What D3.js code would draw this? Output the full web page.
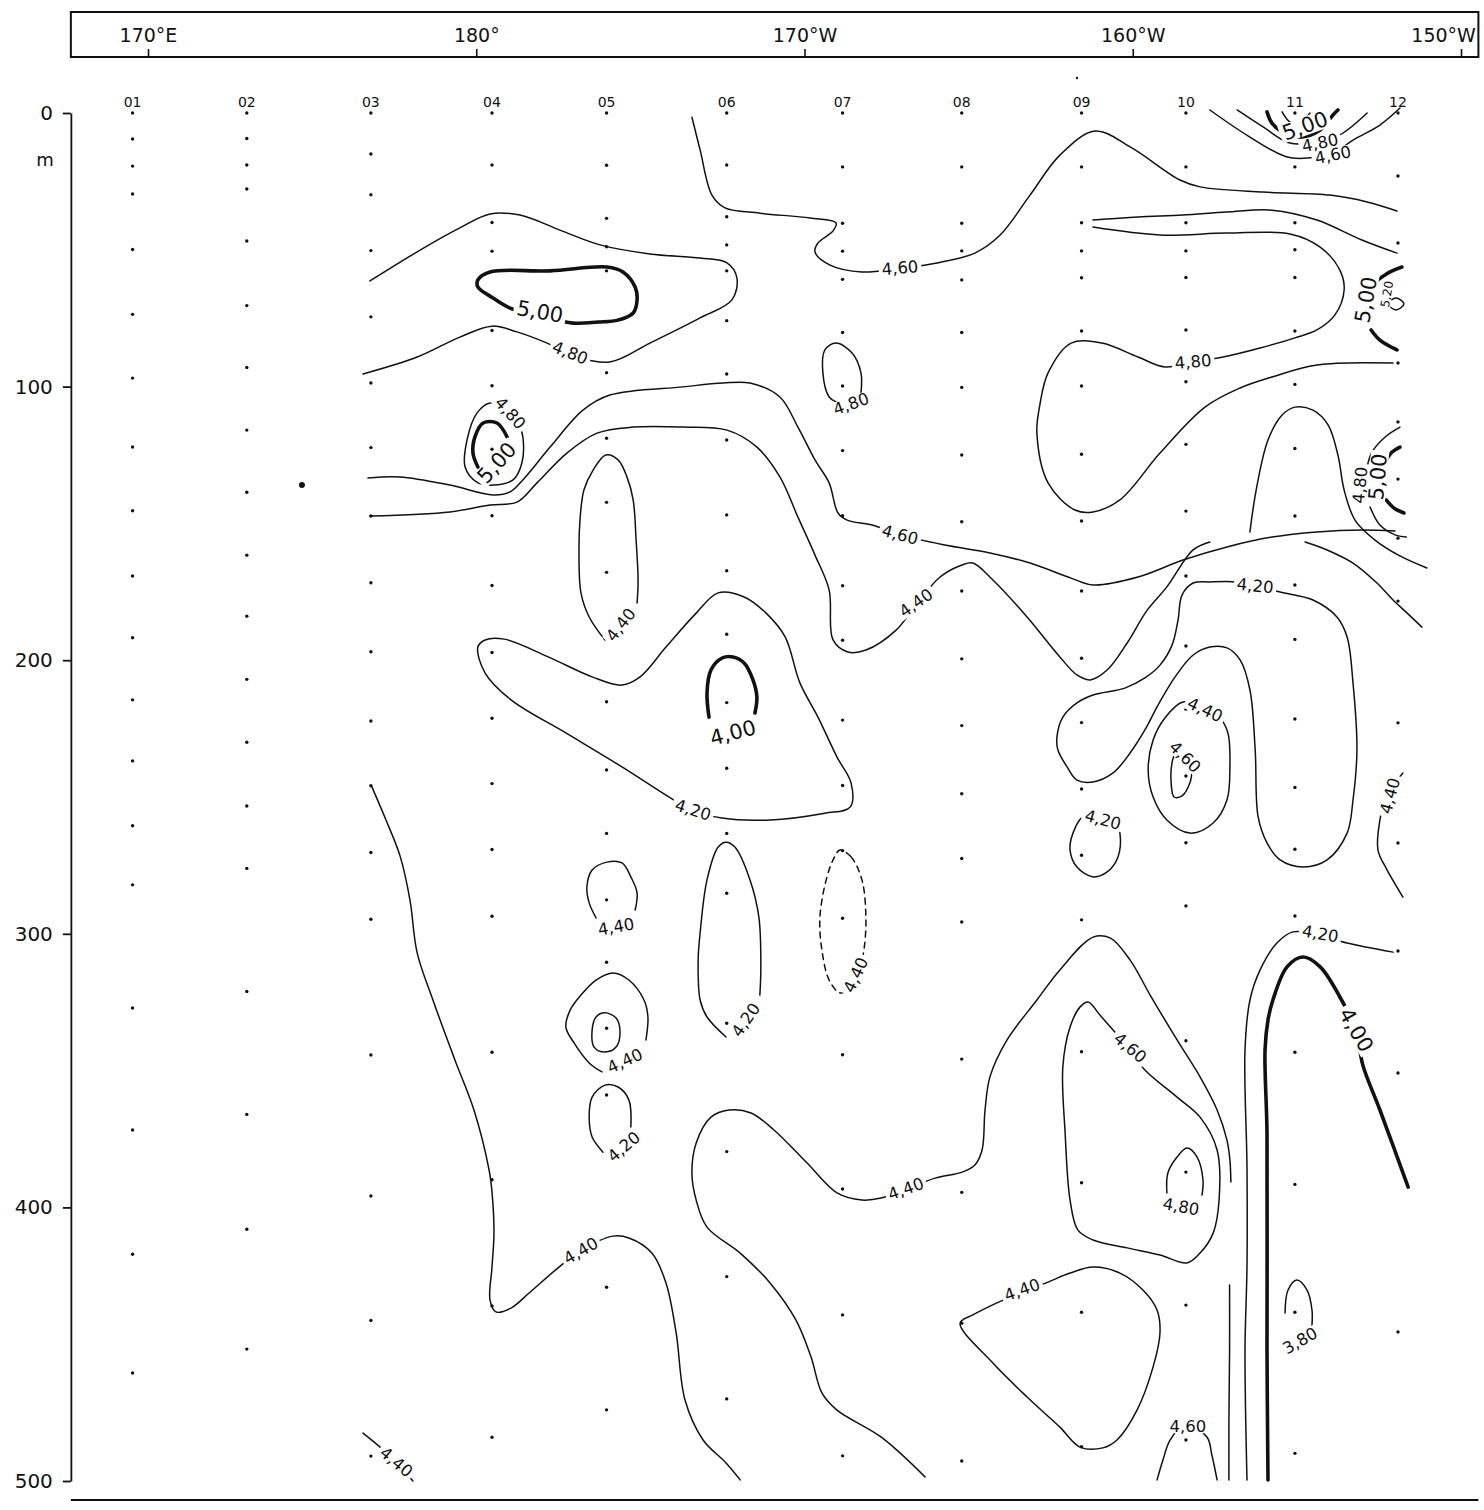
<!DOCTYPE html>
<html>
<head>
<meta charset="utf-8">
<script src="https://cdn.jsdelivr.net/npm/d3@7"></script>
<style>
  body { margin: 0; background: #fff; }
  svg { display: block; }
  text { font-family: "DejaVu Sans", sans-serif; fill: #111; }
</style>
</head>
<body>
<div id="chart"></div>
<script>
// --- stations and sample depths (m) ---
const stationNames = ["01", "02", "03", "04", "05", "06", "07", "08", "09", "10", "11", "12"];
const stationLon = [169.53, 173.01, 176.79, 180.48, 183.97, 187.63, 191.16, 194.79, 198.44, 201.62, 204.94, 208.08];
const sampleDepths = [
    [0, 9.5, 19.4, 29.6, 49.9, 73.6, 96.9, 122.1, 145.4, 169.2, 191.8, 214.5, 236.8, 260.5, 282.1, 327.1, 371.7, 417.1, 460.5],
    [0, 9.3, 19.0, 27.8, 46.8, 70.4, 93.0, 115.9, 138.6, 161.6, 183.9, 207.0, 230.0, 253.3, 276.1, 321.1, 366.0, 408.0, 451.8],
    [0, 15.0, 29.9, 50.3, 74.5, 98.7, 122.3, 147.3, 171.7, 196.9, 222.2, 245.9, 270.3, 294.7, 344.3, 395.8, 441.3, 490.9],
    [0, 19.0, 40.0, 50.5, 79.5, 99.7, 122.9, 147.2, 172.7, 197.2, 221.2, 245.1, 269.2, 293.6, 343.3, 389.9, 436.0, 484.0],
    [0, 19.1, 38.5, 48.9, 57.7, 76.3, 94.9, 118.9, 142.3, 167.9, 190.9, 215.2, 240.1, 263.3, 287.6, 310.4, 334.5, 358.9, 381.5, 429.2, 474.0],
    [0, 19.0, 37.9, 48.2, 57.7, 75.9, 95.4, 119.5, 146.9, 167.3, 190.5, 215.5, 239.5, 263.3, 285.2, 332.7, 379.6, 425.3, 470.0],
    [0, 19.7, 40.3, 50.5, 60.8, 80.2, 99.8, 123.4, 147.2, 172.8, 192.7, 221.9, 245.8, 269.6, 294.3, 344.2, 393.3, 439.3, 490.8],
    [0, 19.7, 40.3, 50.4, 61.0, 80.2, 100.3, 125.0, 149.4, 174.7, 199.5, 223.9, 248.8, 272.5, 295.7, 345.8, 394.5, 442.3, 492.7],
    [0, 19.7, 40.1, 50.4, 60.2, 79.7, 99.8, 124.7, 149.1, 174.7, 199.3, 222.8, 247.1, 271.3, 294.9, 343.1, 391.0, 438.3, 487.5],
    [0, 19.7, 40.1, 50.4, 60.1, 79.3, 98.2, 121.1, 145.5, 169.2, 194.8, 217.9, 242.3, 266.7, 289.8, 339.1, 387.1, 435.7, 485.0],
    [0, 19.7, 40.1, 50.0, 60.1, 79.7, 99.2, 122.6, 147.3, 172.5, 192.4, 221.5, 246.5, 269.1, 293.5, 343.3, 391.6, 438.3, 489.9],
    [0, 23.0, 47.5, 91.4, 112.9, 133.8, 155.4, 178.4, 222.9, 266.8, 306.3, 350.9, 445.5]
];
const strayDots = [[174.69, 136.0, "big"], [198.30, -12.8, "small"]];

// --- axes ---
const lonExtent = [167.65, 210.53];
const lonTicks = [170, 180, 190, 200, 210];
const lonTickLabels = ["170°E", "180°", "170°W", "160°W", "150°W"];
const depthTicks = [0, 100, 200, 300, 400, 500];

// --- contour lines, points are [longitude °E, depth m] ---
const c460Top = [[186.57, 1.5], [186.82, 13.5], [187.18, 30.0], [187.58, 34.7], [188.64, 36.6], [190.17, 38.4], [190.96, 40.2], [190.87, 43.1], [190.41, 47.5], [190.32, 50.8], [190.78, 55.6], [191.75, 58.1], [192.91, 56.7], [194.04, 54.8], [195.19, 51.2], [195.96, 44.6], [196.87, 30.0], [197.78, 15.4], [198.85, 6.6], [199.92, 12.4], [201.44, 24.5], [202.05, 27.0], [203.97, 28.9], [206.01, 30.0], [207.14, 32.5], [208.05, 35.8]];
const c480Tongue = [[176.76, 61.4], [178.29, 50.1], [179.50, 42.0], [180.42, 36.9], [181.33, 37.3], [182.55, 42.8], [183.77, 48.2], [185.29, 51.5], [186.82, 53.0], [187.64, 54.8], [187.94, 60.3], [187.79, 68.3], [186.82, 74.9], [185.29, 84.1], [184.07, 91.0], [183.01, 88.8], [182.16, 84.1], [181.24, 80.0], [180.48, 77.9], [179.50, 81.9], [178.20, 89.2], [176.55, 95.4]];
const c500Tongue = [[183.71, 76.4], [184.32, 75.7], [184.78, 73.1], [184.90, 68.3], [184.84, 63.6], [184.47, 58.1], [183.98, 56.3], [182.25, 57.7], [180.42, 58.1], [180.05, 61.0], [180.05, 63.6], [180.51, 67.6], [181.03, 71.3], [181.94, 74.2], [182.95, 76.8]];
const c480Loop04 = [[180.42, 106.0], [180.02, 109.7], [179.72, 119.5], [179.66, 129.4], [180.02, 134.9], [180.51, 136.0], [181.12, 134.1], [181.39, 127.9], [181.42, 118.4], [181.33, 114.8], [180.97, 108.6]];
const c500Arc04 = [[180.94, 118.4], [180.63, 113.3], [180.21, 113.3], [179.96, 118.4], [179.90, 124.3], [180.05, 129.4]];
const c460Mid = [[176.70, 133.4], [177.68, 133.0], [179.20, 136.0], [180.51, 139.6], [181.03, 138.5], [181.42, 134.1], [182.25, 122.1], [183.25, 108.6], [184.07, 103.1], [186.30, 100.1], [187.52, 98.7], [188.34, 98.7], [189.25, 103.8], [189.80, 114.8], [190.32, 126.8], [190.75, 135.2], [191.02, 146.2], [191.30, 148.8], [192.06, 150.6], [192.91, 154.2], [194.28, 157.9], [195.65, 160.8], [196.87, 164.5], [198.12, 170.0], [198.79, 172.5], [200.16, 169.6], [201.53, 163.4], [202.87, 158.6], [204.24, 155.0], [205.61, 153.1], [206.98, 152.4], [207.99, 152.8]];
const c440Mid = [[176.76, 147.3], [179.20, 145.8], [180.42, 143.3], [181.24, 142.2], [181.85, 135.2], [182.76, 124.3], [183.68, 117.0], [184.78, 114.8], [186.30, 114.8], [187.64, 115.9], [188.55, 122.1], [189.25, 133.0], [189.80, 147.7], [190.32, 161.6], [190.75, 174.3], [190.87, 192.6], [191.32, 197.0], [191.87, 196.3], [192.79, 189.0], [193.40, 179.8], [194.13, 169.6], [194.80, 165.2], [195.13, 164.5], [195.74, 170.7], [196.78, 184.2], [197.78, 198.8], [198.30, 205.4], [198.70, 207.2], [199.22, 203.6], [199.83, 193.7], [200.44, 181.7], [201.04, 173.2], [201.84, 159.7], [202.35, 156.8]];
const c440Right = [[205.25, 156.8], [205.92, 159.7], [206.71, 164.5], [207.44, 171.8], [207.93, 178.0], [208.36, 182.8], [208.81, 187.9]];
const c460Bump = [[203.57, 153.1], [203.76, 137.8], [204.12, 119.5], [204.55, 110.4], [204.94, 107.5], [205.49, 108.6], [205.95, 114.0], [206.25, 125.0], [206.44, 137.8], [206.77, 148.8], [207.38, 156.1], [208.14, 161.9], [208.96, 166.3]];
const c480Upper = [[198.79, 39.1], [200.16, 38.0], [201.53, 37.3], [202.87, 36.2], [204.24, 35.5], [205.61, 39.1], [206.98, 46.4], [208.05, 51.2]];
const c480Big = [[198.79, 41.7], [200.83, 44.6], [202.87, 43.9], [204.79, 44.2], [205.71, 49.0], [206.31, 57.4], [206.44, 64.7], [206.16, 73.8], [205.61, 79.3], [204.94, 82.2], [203.88, 85.9], [202.75, 89.2], [201.84, 91.0], [200.98, 92.8], [200.16, 89.2], [199.06, 84.1], [198.12, 84.1], [197.42, 95.0], [197.17, 106.7], [197.08, 117.0], [197.42, 135.2], [198.24, 145.1], [198.79, 145.8], [199.61, 141.4], [200.83, 124.3], [202.20, 107.5], [203.27, 100.5], [204.24, 96.5], [205.61, 92.1], [207.93, 91.4]];
const c480Loop07 = [[190.96, 105.6], [190.75, 103.8], [190.56, 95.0], [190.62, 86.6], [190.96, 84.1], [191.45, 87.7], [191.72, 95.0], [191.72, 102.3]];
const c440Loop05 = [[183.92, 192.6], [183.44, 184.2], [183.19, 175.4], [183.13, 159.7], [183.16, 148.8], [183.28, 137.8], [183.56, 130.5], [183.95, 125.0], [184.32, 126.8], [184.59, 133.0], [184.78, 141.4], [184.87, 156.1], [184.93, 170.7], [184.90, 179.1]];
const c420Big = [[180.05, 195.2], [180.27, 192.6], [180.85, 192.3], [182.19, 198.8], [183.53, 206.1], [184.44, 209.1], [184.99, 206.1], [185.78, 195.2], [186.70, 182.8], [187.37, 175.4], [188.16, 176.9], [188.83, 182.8], [189.41, 191.5], [189.86, 208.3], [190.41, 220.8], [190.99, 235.4], [191.42, 244.9], [191.39, 253.7], [190.62, 255.9], [188.95, 258.4], [187.49, 257.7], [186.57, 254.8], [185.78, 249.3], [184.44, 239.0], [182.73, 226.6], [181.06, 214.5], [180.27, 204.7]];
const c400Loop06 = [[187.09, 220.8], [187.03, 212.0], [187.15, 203.6], [187.49, 199.2], [187.82, 198.8], [188.16, 201.0], [188.43, 207.2], [188.55, 213.5], [188.49, 219.3]];
const c420Loop10 = [[203.18, 171.4], [202.35, 171.4], [201.84, 171.8], [201.50, 176.2], [201.38, 185.3], [201.20, 194.4], [200.83, 201.8], [200.37, 206.5], [199.76, 210.2], [198.79, 212.7], [198.30, 215.6], [197.87, 220.8], [197.69, 228.1], [197.72, 232.8], [198.00, 239.0], [198.30, 243.8], [198.79, 244.5], [199.40, 241.2], [199.92, 233.9], [200.37, 225.5], [200.77, 216.4], [201.29, 206.1], [201.84, 198.1], [202.35, 195.2], [202.87, 195.5], [203.27, 199.9], [203.57, 210.9], [203.73, 232.8], [203.82, 257.3], [204.09, 266.8], [204.49, 273.0], [205.19, 275.6], [205.92, 273.0], [206.53, 263.2], [206.71, 251.1], [206.83, 232.8], [206.71, 208.3], [206.53, 191.5], [206.22, 184.2], [205.49, 178.0], [204.49, 175.1], [203.73, 172.9]];
const c440Loop10 = [[201.53, 215.3], [200.98, 221.1], [200.62, 229.2], [200.47, 240.1], [200.62, 250.0], [201.04, 258.4], [201.75, 263.2], [202.45, 259.5], [202.87, 251.1], [202.96, 239.0], [202.90, 226.6], [202.66, 221.1], [202.20, 217.5]];
const c460Loop10 = [[201.81, 239.4], [201.75, 244.5], [201.50, 249.6], [201.26, 250.0], [201.17, 244.9], [201.20, 237.2], [201.35, 232.1]];
const c420Loop09 = [[198.49, 257.3], [198.18, 263.2], [198.09, 269.4], [198.30, 275.6], [198.79, 279.2], [199.22, 277.4], [199.55, 271.9], [199.61, 263.2], [199.49, 259.1]];
const c440Edge12 = [[208.23, 241.2], [207.99, 244.9], [207.69, 251.1], [207.53, 258.4], [207.47, 269.4], [207.75, 276.7], [208.23, 286.6]];
const c440Dashed07 = [[191.08, 269.4], [191.42, 271.9], [191.75, 280.3], [191.87, 293.9], [191.81, 305.9], [191.63, 315.1], [191.32, 320.5], [191.08, 321.6], [190.75, 316.9], [190.53, 305.9], [190.47, 293.9], [190.66, 280.3], [190.87, 273.0]];
const c440Small05 = [[183.65, 294.2], [183.44, 288.7], [183.37, 282.9], [183.53, 276.7], [183.98, 273.8], [184.44, 274.1], [184.71, 279.2], [184.90, 285.1], [184.84, 291.3]];
const c420Loop06 = [[187.61, 337.7], [187.03, 330.4], [186.82, 324.2], [186.76, 309.6], [186.82, 299.7], [187.03, 280.3], [187.37, 268.3], [187.61, 266.5], [187.88, 268.3], [188.34, 280.3], [188.61, 293.9], [188.67, 312.1], [188.64, 322.4]];
const c440Ring05 = [[183.83, 350.5], [183.44, 347.2], [182.98, 339.9], [182.73, 334.1], [182.86, 327.9], [183.19, 322.4], [183.65, 316.9], [184.17, 314.3], [184.65, 316.9], [185.11, 324.2], [185.23, 330.4], [185.17, 338.8]];
const cCircle05 = [[183.53, 335.2], [183.65, 330.4], [183.92, 328.9], [184.26, 330.8], [184.38, 335.9], [184.26, 341.4], [183.92, 343.2], [183.59, 341.4]];
const c420Small05 = [[184.71, 370.6], [184.65, 360.7], [184.32, 356.0], [183.92, 355.3], [183.53, 359.7], [183.44, 367.0], [183.53, 374.3], [183.86, 379.8]];
const c440West = [[176.82, 246.3], [177.25, 258.4], [177.68, 271.6], [177.98, 287.6], [178.20, 307.0], [178.68, 324.2], [179.35, 346.1], [179.93, 364.4], [180.39, 386.3], [180.48, 394.4], [180.54, 409.4], [180.48, 421.8], [180.42, 433.9], [180.60, 438.2], [181.06, 436.8], [181.61, 431.3], [182.52, 421.8], [183.16, 415.9], [184.17, 410.5], [184.65, 411.2], [185.35, 416.7], [185.78, 427.6], [186.09, 445.9], [186.36, 470.4], [186.91, 485.0], [187.61, 493.4], [188.04, 499.6]];
const c440Long = [[193.67, 498.5], [192.33, 483.9], [190.99, 474.1], [190.53, 467.8], [190.20, 454.7], [189.74, 441.2], [188.95, 427.6], [188.04, 416.7], [187.03, 407.2], [186.70, 397.3], [186.57, 387.4], [186.70, 376.5], [187.15, 367.0], [187.70, 364.4], [188.37, 365.5], [189.07, 371.7], [190.08, 383.8], [190.99, 394.7], [191.75, 397.3], [192.33, 396.6], [193.09, 393.3], [193.98, 389.3], [194.80, 387.1], [195.19, 384.5], [195.41, 379.0], [195.50, 364.4], [195.65, 352.3], [196.17, 338.8], [197.08, 324.2], [197.78, 313.2], [198.79, 301.2], [199.31, 301.5], [199.92, 309.6], [200.53, 322.4], [201.35, 338.8], [202.05, 352.3], [202.57, 364.4], [202.87, 375.4], [202.96, 382.7], [202.99, 390.7]];
const c440LongLow = [[202.95, 428.4], [202.95, 452.1], [202.93, 477.7], [202.93, 499.6]];
const c460Loop09 = [[198.64, 324.9], [199.00, 329.7], [199.40, 335.2], [199.92, 342.5], [200.37, 349.8], [201.35, 359.7], [202.05, 367.0], [202.57, 379.0], [202.63, 397.3], [202.45, 409.4], [202.05, 416.7], [201.65, 420.3], [200.83, 417.4], [199.83, 414.8], [198.79, 411.9], [198.33, 408.3], [198.09, 397.3], [197.94, 372.8], [197.87, 348.7], [198.09, 334.1], [198.39, 326.8]];
const c480Loop10 = [[201.04, 394.7], [201.07, 387.4], [201.35, 381.6], [201.65, 378.3], [201.96, 381.6], [202.14, 390.0], [202.11, 395.5]];
const c440Loop09 = [[194.74, 442.3], [195.13, 439.3], [196.05, 433.9], [197.42, 427.3], [198.09, 424.0], [198.79, 421.8], [199.61, 424.0], [200.31, 430.2], [200.74, 437.5], [200.83, 445.9], [200.62, 458.3], [200.13, 474.1], [199.52, 485.0], [199.09, 487.9], [198.39, 487.6], [197.78, 480.3], [196.78, 469.3], [195.74, 456.9]];
const c460Bottom10 = [[200.74, 499.6], [200.92, 492.3], [201.14, 485.0], [201.59, 479.2], [202.26, 483.9], [202.41, 490.5], [202.57, 499.6]];
const c380Loop11 = [[204.64, 438.6], [204.73, 430.2], [205.00, 426.5], [205.31, 430.2], [205.46, 437.5], [205.46, 443.0]];
const c420East = [[207.93, 306.7], [206.53, 303.4], [205.71, 300.4], [204.88, 299.3], [204.39, 303.4], [203.88, 313.2], [203.57, 324.2], [203.42, 342.5], [203.48, 385.2], [203.48, 421.8], [203.42, 452.1], [203.48, 499.6]];
const c400East = [[204.12, 499.6], [204.09, 452.1], [204.09, 372.8], [204.03, 342.5], [204.12, 331.5], [204.27, 324.2], [204.70, 312.1], [205.19, 308.5], [205.71, 312.1], [206.31, 323.1], [206.80, 335.2], [207.01, 348.0], [207.53, 364.4], [208.39, 392.6]];
const c440SW = [[176.55, 482.5], [177.07, 487.6], [177.56, 493.1], [178.07, 500.0]];
const c460Surf11 = [[202.35, -1.1], [203.57, 8.8], [204.70, 16.1], [205.40, 16.4], [206.07, 15.0], [206.71, 9.9], [207.53, 4.4], [208.14, -1.8]];
const c480Surf11 = [[203.18, -1.1], [203.97, 5.1], [204.79, 11.0], [205.64, 10.6], [206.31, 8.0], [207.14, 0]];
const c500Surf11 = [[204.09, -0.4], [204.24, 3.7], [204.55, 6.9], [205.10, 8.8], [205.71, 6.2], [206.10, 0.7], [206.25, -1.1]];
const cArcSurf11 = [[204.55, -0.4], [204.79, 3.3], [205.10, 3.7], [205.40, 0]];
const c500Stub12a = [[207.47, 61.0], [207.84, 58.1], [208.20, 56.3]];
const c500Stub12b = [[207.26, 79.3], [207.53, 83.0], [208.05, 86.6]];
const c520Ring12 = [[207.78, 69.8], [208.02, 67.6], [208.26, 69.8], [208.02, 72.0]];
const c500Arc12a = [[208.14, 122.1], [207.90, 123.9], [207.72, 126.8]];
const c500Arc12b = [[207.72, 141.4], [207.96, 144.4], [208.26, 146.2]];
const c480Arc12a = [[208.14, 114.8], [207.69, 118.4], [207.29, 123.9], [207.14, 129.4]];
const c480Arc12b = [[207.23, 144.0], [207.53, 150.6], [207.99, 154.2], [208.33, 155.0]];

// [points, stroke kind, closed]
const contours = [
    [c460Top, "thin", false], [c480Tongue, "thin", false], [c500Tongue, "thick", true],
    [c480Loop04, "thin", true], [c500Arc04, "thick", false], [c460Mid, "thin", false],
    [c440Mid, "thin", false], [c440Right, "thin", false], [c460Bump, "thin", false],
    [c480Upper, "thin", false], [c480Big, "thin", false], [c480Loop07, "thin", false],
    [c440Loop05, "thin", false], [c420Big, "thin", true], [c400Loop06, "thick", false],
    [c420Loop10, "thin", true], [c440Loop10, "thin", true], [c460Loop10, "thin", false],
    [c420Loop09, "thin", true], [c440Edge12, "thin", false], [c440Dashed07, "dashed", true],
    [c440Small05, "thin", false], [c420Loop06, "thin", false], [c440Ring05, "thin", false],
    [cCircle05, "thin", true], [c420Small05, "thin", false], [c440West, "thin", false],
    [c440Long, "thin", false], [c440LongLow, "thin", false], [c460Loop09, "thin", true],
    [c480Loop10, "thin", false], [c440Loop09, "thin", true], [c460Bottom10, "thin", false],
    [c380Loop11, "thin", false], [c420East, "thin", false], [c400East, "thick", false],
    [c440SW, "thin", false], [c460Surf11, "thin", false], [c480Surf11, "thin", false],
    [c500Surf11, "thick", false], [cArcSurf11, "thin", false], [c500Stub12a, "thick", false],
    [c500Stub12b, "thick", false], [c520Ring12, "thin", true], [c500Arc12a, "thick", false],
    [c500Arc12b, "thick", false], [c480Arc12a, "thin", false], [c480Arc12b, "thin", false]
];

// contour labels: [text, longitude, depth, angle]
const contourLabels = [
    ["5,00", 181.94, 72.7, 10], ["4,80", 182.86, 87.7, 22], ["4,80", 181.03, 109.7, 48],
    ["5,00", 180.63, 127.9, -48], ["4,60", 192.91, 56.7, -5], ["4,80", 191.42, 106.4, -20],
    ["4,80", 201.84, 91.0, -5], ["4,60", 192.91, 154.2, 15], ["4,40", 193.40, 179.1, -35],
    ["4,40", 184.41, 187.1, -52], ["4,00", 187.82, 226.6, -15], ["4,20", 186.60, 254.8, 18],
    ["4,20", 203.73, 172.9, 6], ["4,40", 202.20, 218.2, 25], ["4,60", 201.59, 235.4, 45],
    ["4,20", 199.09, 258.4, 15], ["4,40", 207.84, 249.6, -75], ["4,40", 184.26, 297.5, -10],
    ["4,40", 191.57, 315.1, -65], ["4,20", 188.22, 331.5, -55], ["4,40", 184.53, 346.5, -25],
    ["4,20", 184.50, 377.9, -40], ["4,20", 205.71, 300.1, 10], ["4,00", 206.80, 335.2, 60],
    ["4,60", 199.92, 341.7, 40], ["4,80", 201.47, 399.8, 10], ["4,40", 193.09, 393.3, -20],
    ["4,40", 183.19, 415.9, -30], ["4,40", 196.63, 430.2, -20], ["3,80", 205.10, 448.8, -30],
    ["4,60", 201.68, 479.9, 0], ["4,40", 177.56, 493.1, 40], ["5,00", 205.25, 4.8, -20],
    ["4,80", 205.71, 11.0, -12], ["4,60", 206.10, 15.4, -12], ["5,00", 207.11, 68.3, -80],
    ["5,20", 207.75, 66.2, -80], ["4,80", 206.93, 136.0, -85], ["5,00", 207.47, 133.0, -85]
];

const width = 1484, height = 1510;
const svg = d3.select("#chart").append("svg")
    .attr("width", width)
    .attr("height", height);

const x = d3.scaleLinear().domain([170, 210]).range([148, 1461]);
const y = d3.scaleLinear().domain([0, 500]).range([113, 1481]);

// top longitude box
const boxTop = 12, boxBottom = 57;
svg.append("rect")
    .attr("x", x(lonExtent[0]))
    .attr("y", boxTop)
    .attr("width", x(lonExtent[1]) - x(lonExtent[0]))
    .attr("height", boxBottom - boxTop)
    .attr("fill", "none")
    .attr("stroke", "#111")
    .attr("stroke-width", 2);

const topAxis = d3.axisTop(x)
    .tickValues(lonTicks)
    .tickFormat((d, i) => lonTickLabels[i])
    .tickSize(8)
    .tickPadding(7);
const gTop = svg.append("g")
    .attr("transform", `translate(0, ${boxBottom})`)
    .call(topAxis);
gTop.select(".domain").remove();
gTop.selectAll(".tick line").attr("stroke", "#111").attr("stroke-width", 1.6);
gTop.selectAll(".tick text")
    .attr("font-size", 19)
    .attr("font-family", "DejaVu Sans, sans-serif")
    .attr("fill", "#111");
// last label sits against the right edge of the box
gTop.selectAll(".tick text")
    .filter(d => d == lonTicks[lonTicks.length - 1])
    .attr("text-anchor", "end")
    .attr("x", x(lonExtent[1]) - x(lonTicks[lonTicks.length - 1]) - 3);

// depth axis
const leftAxis = d3.axisLeft(y)
    .tickValues(depthTicks)
    .tickSize(8)
    .tickSizeOuter(0)
    .tickPadding(10);
const gLeft = svg.append("g")
    .attr("transform", `translate(${x(lonExtent[0])}, 0)`)
    .call(leftAxis);
gLeft.select(".domain").attr("stroke", "#111").attr("stroke-width", 1.8);
gLeft.selectAll(".tick line").attr("stroke", "#111").attr("stroke-width", 1.8);
gLeft.selectAll(".tick text")
    .attr("font-size", 20)
    .attr("font-family", "DejaVu Sans, sans-serif")
    .attr("fill", "#111");

svg.append("text")
    .attr("x", 45)
    .attr("y", y(17))
    .attr("text-anchor", "middle")
    .attr("dominant-baseline", "central")
    .attr("font-size", 18)
    .text("m");

// bottom rule
svg.append("line")
    .attr("x1", x(lonExtent[0]))
    .attr("x2", x(lonExtent[1]))
    .attr("y1", 1500)
    .attr("y2", 1500)
    .attr("stroke", "#111")
    .attr("stroke-width", 2);

// station names
svg.selectAll(".station")
    .data(stationNames)
    .enter()
    .append("text")
    .attr("class", "station")
    .attr("x", (d, i) => x(stationLon[i]))
    .attr("y", 102)
    .attr("text-anchor", "middle")
    .attr("dominant-baseline", "central")
    .attr("font-size", 14)
    .text(d => d);

// sample dots
const dots = [];
sampleDepths.forEach((col, i) => col.forEach(dep => dots.push([stationLon[i], dep])));
svg.append("g").selectAll("circle")
    .data(dots)
    .enter()
    .append("circle")
    .attr("cx", d => x(d[0]))
    .attr("cy", d => y(d[1]))
    .attr("r", 1.7)
    .attr("fill", "#111");
svg.append("g").selectAll("circle")
    .data(strayDots)
    .enter()
    .append("circle")
    .attr("cx", d => x(d[0]))
    .attr("cy", d => y(d[1]))
    .attr("r", d => d[2] == "big" ? 3 : 1.2)
    .attr("fill", "#111");

// contours
const openLine = d3.line()
    .x(d => x(d[0]))
    .y(d => y(d[1]))
    .curve(d3.curveCatmullRom.alpha(0.5));
const closedLine = d3.line()
    .x(d => x(d[0]))
    .y(d => y(d[1]))
    .curve(d3.curveCatmullRomClosed.alpha(0.5));

svg.append("g").selectAll("path")
    .data(contours)
    .enter()
    .append("path")
    .attr("d", d => d[2] ? closedLine(d[0]) : openLine(d[0]))
    .attr("fill", "none")
    .attr("stroke", "#111")
    .attr("stroke-linecap", "round")
    .attr("stroke-linejoin", "round")
    .attr("stroke-width", d => d[1] == "thick" ? 3.6 : 1.5)
    .attr("stroke-dasharray", d => d[1] == "dashed" ? "6,5" : null);

// contour labels, a white box behind each one breaks the line like the drawing
const labelG = svg.append("g").selectAll("g")
    .data(contourLabels)
    .enter()
    .append("g")
    .attr("transform", d => `translate(${x(d[1])}, ${y(d[2])}) rotate(${d[3]})`);
const labelBg = labelG.append("rect").attr("fill", "#fff");
const labelTxt = labelG.append("text")
    .attr("text-anchor", "middle")
    .attr("dominant-baseline", "central")
    .attr("font-size", d => (d[0] == "5,00" || d[0] == "4,00") ? 21 : (d[0] == "5,20" ? 12 : 16.5))
    .text(d => d[0]);
labelTxt.each(function () {
    const b = this.getBBox();
    d3.select(this.previousSibling)
        .attr("x", b.x - 3)
        .attr("y", b.y + b.height * 0.12)
        .attr("width", b.width + 6)
        .attr("height", b.height * 0.76);
});
</script>
</body>
</html>
